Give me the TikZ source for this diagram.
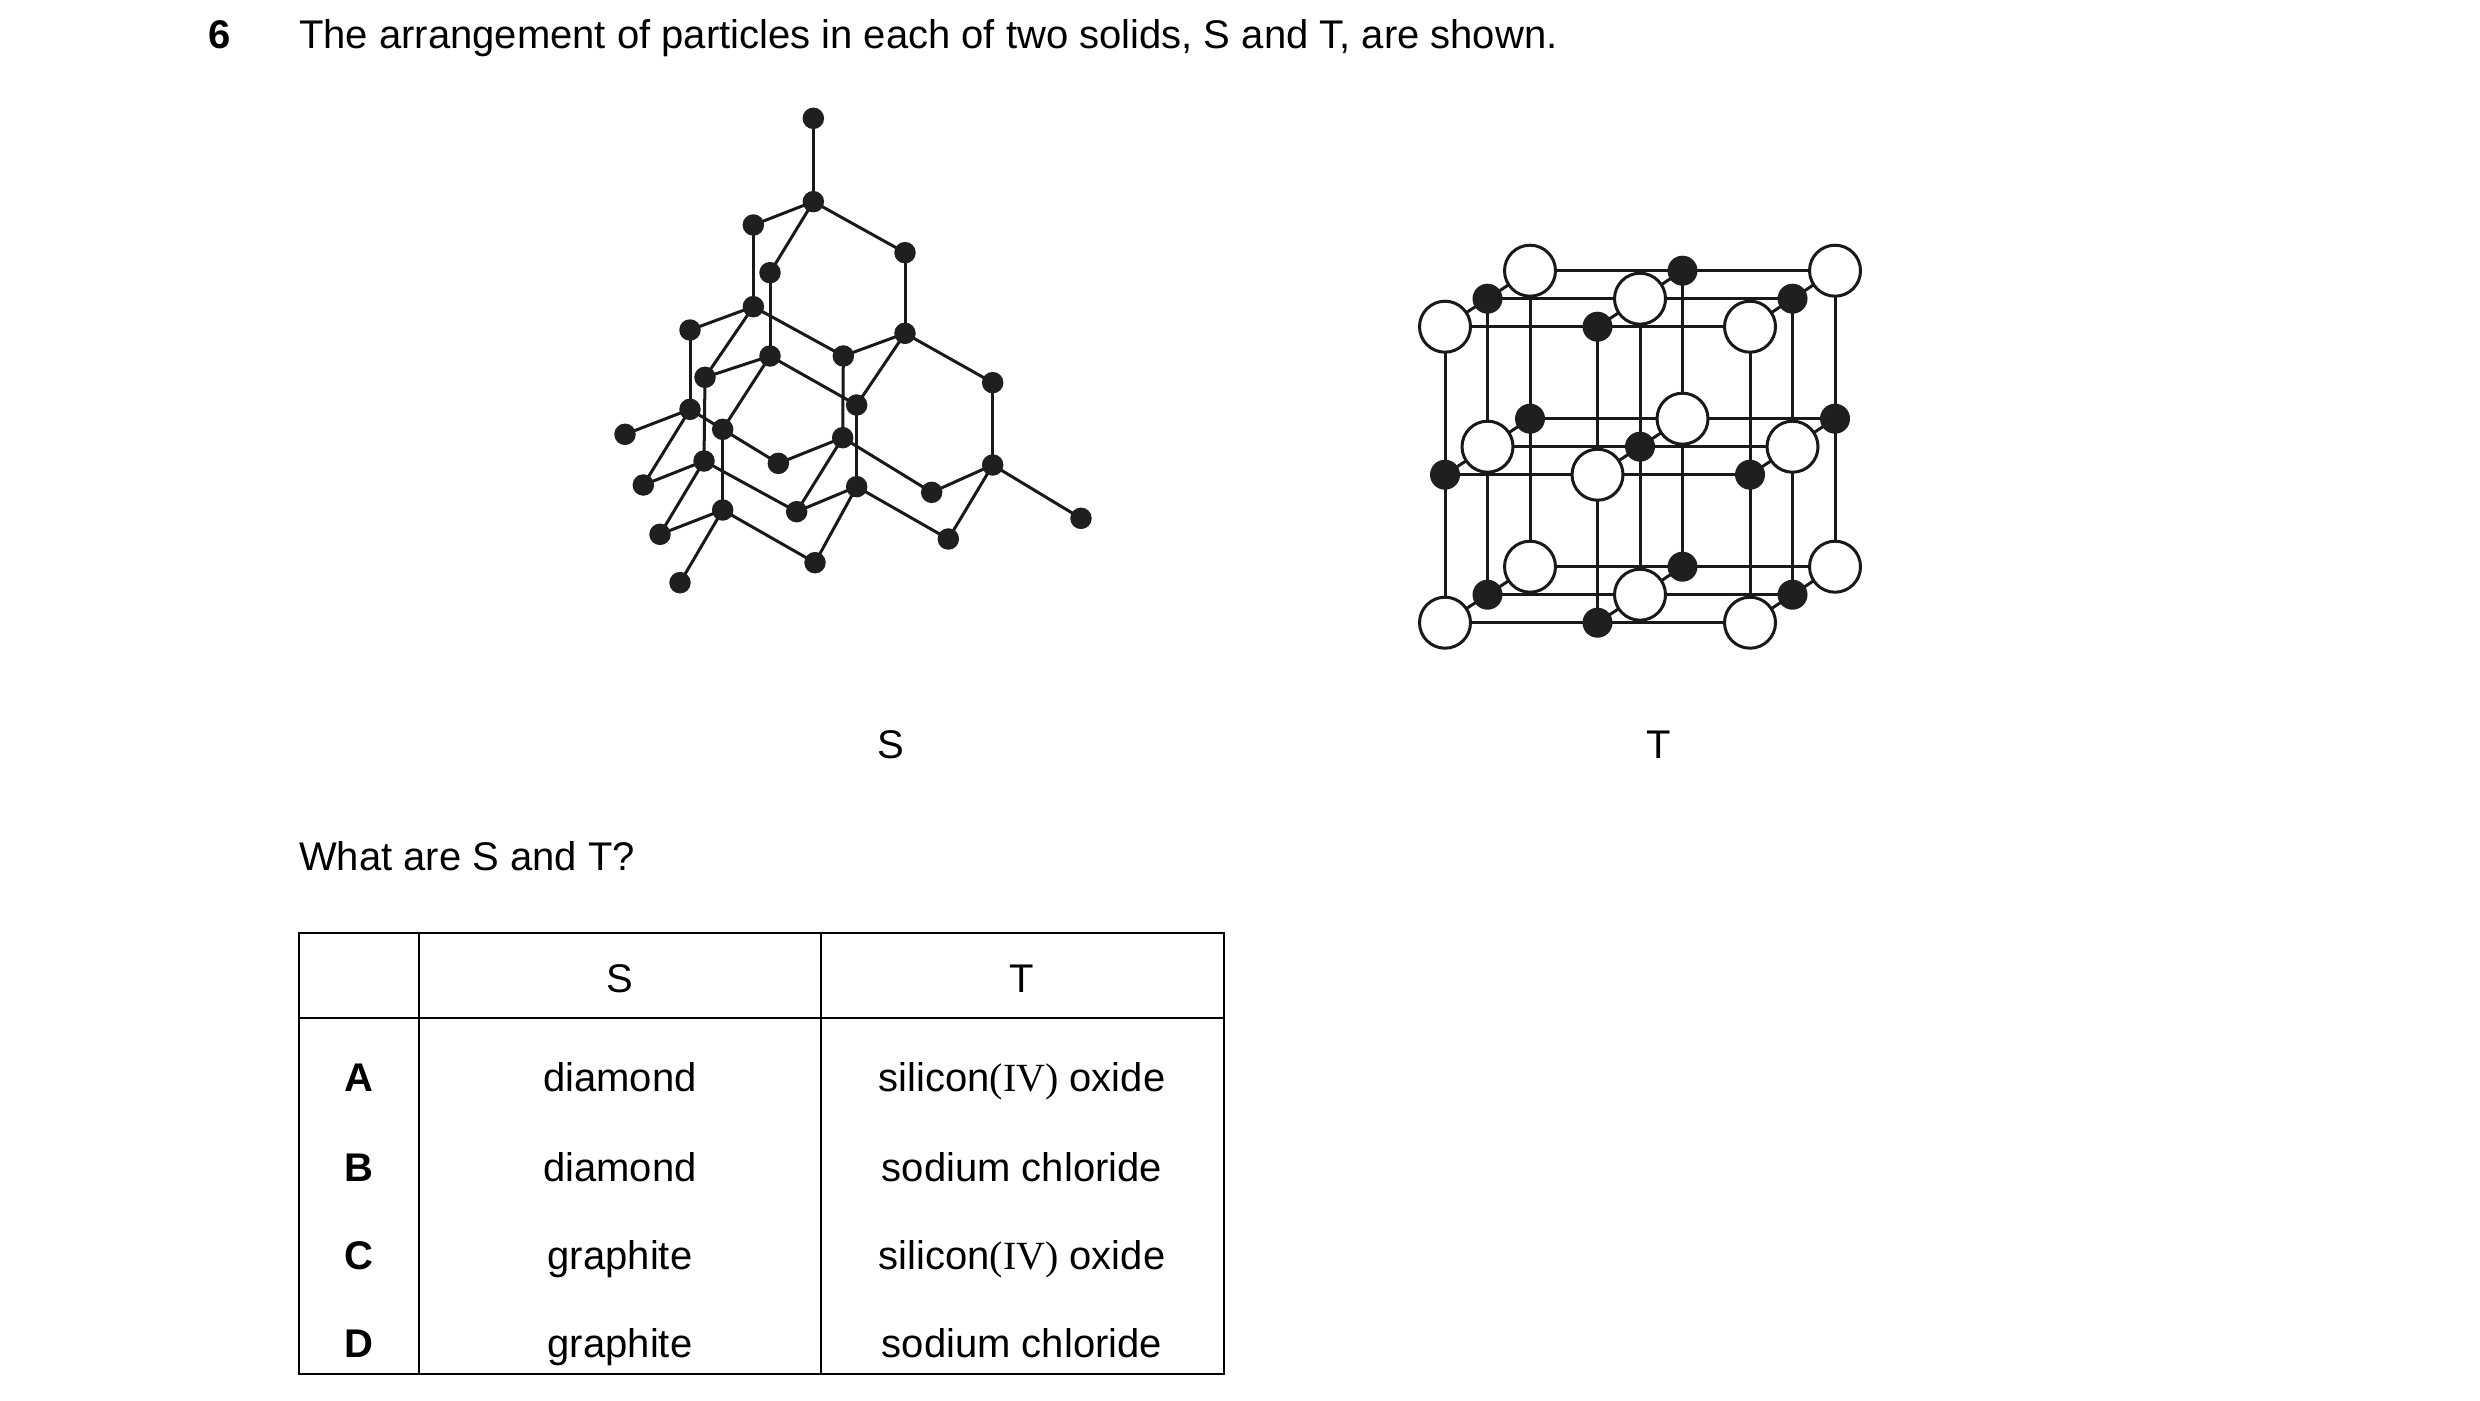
\documentclass[tikz,border=0pt]{standalone}
\usepackage{fontspec}
\setmainfont{Liberation Sans}
\newfontfamily\serifiv{Liberation Serif}
\begin{document}
\begin{tikzpicture}[x=1pt,y=-1pt,
  bond/.style={line width=3pt,color=black!90},
  dot/.style={circle,fill=black!88,inner sep=0pt,minimum size=21.5pt},
  bigdot/.style={circle,fill=black!88,inner sep=0pt,minimum size=30pt},
  ring/.style={circle,draw=black!90,line width=3pt,fill=white,inner sep=0pt,minimum size=51pt},
  txt/.style={font=\fontsize{40}{48}\selectfont,inner sep=0pt},
  tl/.style={line width=2.5pt}]
\useasboundingbox (0,0) rectangle (2480,1400);
\node[txt,font=\fontsize{40}{48}\selectfont\bfseries,anchor=base west] (q6) at (208,48) {6};
\node[txt,anchor=base west] (qt) at (299,48) {The arrangement of particles in each of two solids, S and T, are shown.};
% ---- S (diamond) ----
\foreach \n/\zx/\zy in {1/640/85,2/640/335,3/460/405,4/510/548,5/915/488,6/460/650,7/270/720,8/510/798,9/730/798,10/915/730,11/315/862,12/770/945,13/1178/878,14/270/958,15/75/1033,16/368/1018,17/728/1043,18/535/1120,19/312/1113,20/130/1185,21/770/1190,22/995/1207,23/1178/1125,24/590/1265,25/368/1260,26/180/1333,27/1045/1347,28/1443/1285,29/645/1418,30/240/1478}
  {\coordinate (s\n) at ({600+\zx/3},{90+\zy/3});}
\foreach \a/\b in {1/2,2/3,2/4,2/5,3/6,4/8,5/10,6/7,6/11,6/9,7/14,8/11,8/16,8/12,9/10,9/17,10/12,10/13,11/19,12/21,13/23,14/15,14/20,14/16,16/18,16/25,17/18,17/24,17/22,19/20,19/26,19/24,21/24,21/29,21/27,22/23,23/27,23/28,25/26,25/30,25/29}
  {\draw[bond] (s\a) -- (s\b);}
\foreach \n in {1,...,30} {\node[dot] (S\n) at (s\n) {};}
\node[txt,anchor=base] (labS) at (891,758) {S};
% ---- T (NaCl) ----
\foreach \i in {0,1,2}{\foreach \j in {0,1,2}{\foreach \k in {0,1,2}{
  \coordinate (t\i\j\k) at ({1445+152.5*\i+42.5*\k},{326.7+148*\j-28*\k});}}}
\foreach \k in {2,1,0}{
  \foreach \a in {0,1,2}{\foreach \b/\c in {0/1,1/2}{
    \draw[bond] (t\b\a\k) -- (t\c\a\k);
    \draw[bond] (t\a\b\k) -- (t\a\c\k);}}}
\foreach \i in {0,1,2}{\foreach \j in {0,1,2}{
  \draw[bond] (t\i\j0) -- (t\i\j1) -- (t\i\j2);}}
\foreach \k in {2,1,0}{\foreach \i in {0,1,2}{\foreach \j in {0,1,2}{
  \pgfmathparse{int(mod(\i+\j+\k,2))}
  \ifnum\pgfmathresult=0 \node[ring] (T\i\j\k) at (t\i\j\k) {};
  \else \node[bigdot] (T\i\j\k) at (t\i\j\k) {};\fi}}}
\node[txt,anchor=base] (labT) at (1659,758) {T};
% ---- question ----
\node[txt,anchor=base west] (wq) at (299,870) {What are S and T?};
% ---- table ----
\draw[tl] (299,933) rectangle (1224,1374);
\draw[tl] (299,1018) -- (1224,1018);
\draw[tl] (419,933) -- (419,1374);
\draw[tl] (821,933) -- (821,1374);
\node[txt,anchor=base] (hS) at (620,992) {S};
\node[txt,anchor=base] (hT) at (1022,992) {T};
\foreach \L/\s/\t/\y in {A/diamond/{silicon{\serifiv(IV)} oxide}/1091,B/diamond/sodium chloride/1181,C/graphite/{silicon{\serifiv(IV)} oxide}/1269,D/graphite/sodium chloride/1357}{
  \node[txt,anchor=base,font=\fontsize{40}{48}\selectfont\bfseries] (r\L) at (359,\y) {\L};
  \node[txt,anchor=base] (rs\L) at (620,\y) {\s};
  \node[txt,anchor=base] (rt\L) at (1022,\y) {\t};}
\end{tikzpicture}
\end{document}
